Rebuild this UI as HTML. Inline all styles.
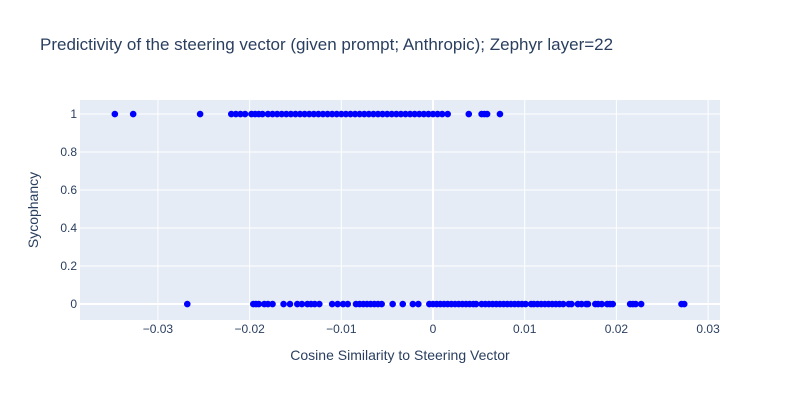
<!DOCTYPE html>
<html><head><meta charset="utf-8"><style>
body{margin:0;background:#fff;font-family:"Liberation Sans",Arial,sans-serif}
svg text{font-family:"Liberation Sans",Arial,sans-serif}
</style></head><body>
<svg id="chart" width="800" height="400">
<text x="40" y="50" font-size="17" fill="#2a3f5f">Predictivity of the steering vector (given prompt; Anthropic); Zephyr layer=22</text>
<rect x="80" y="100" width="640" height="220" fill="#e5ecf6"/>
<g id="grid"></g><g id="pts"></g><g id="ticks"></g>
<text x="400" y="360" font-size="14" fill="#2a3f5f" text-anchor="middle">Cosine Similarity to Steering Vector</text>
<text x="38" y="210" font-size="14" fill="#2a3f5f" text-anchor="middle" transform="rotate(-90 38 210)">Sycophancy</text>
</svg>
<script>
const xTicks=[-0.03,-0.02,-0.01,0,0.01,0.02,0.03];
const xTickLabels=["−0.03","−0.02","−0.01","0","0.01","0.02","0.03"];
const yTicks=[0,0.2,0.4,0.6,0.8,1];
const yTickLabels=["0","0.2","0.4","0.6","0.8","1"];
const topX=[-0.0347,-0.0327,-0.0254,-0.022,-0.0215,-0.021,-0.0205,-0.0198,-0.0194,-0.019,-0.0186,-0.018,-0.0175,-0.017,-0.0165,-0.016,-0.0155,-0.015,-0.0145,-0.014,-0.0135,-0.013,-0.0125,-0.012,-0.0115,-0.011,-0.0105,-0.01,-0.0095,-0.009,-0.0085,-0.008,-0.0075,-0.007,-0.0065,-0.006,-0.0055,-0.005,-0.0045,-0.004,-0.0035,-0.003,-0.0025,-0.002,-0.0015,-0.001,-0.0005,0,0.0005,0.001,0.0016,0.0039,0.0053,0.0056,0.0059,0.0073];
const botX=[-0.0268,-0.0196,-0.0193,-0.019,-0.0184,-0.018,-0.0175,-0.0163,-0.0156,-0.0148,-0.0143,-0.0137,-0.0133,-0.0129,-0.0124,-0.011,-0.0104,-0.0098,-0.0093,-0.0084,-0.008,-0.0076,-0.0072,-0.0068,-0.0064,-0.006,-0.0056,-0.0044,-0.0033,-0.0022,-0.0016,-0.0004,0,0.0004,0.0008,0.0012,0.0016,0.002,0.0024,0.0028,0.0032,0.0036,0.004,0.0044,0.0047,0.0053,0.0057,0.0061,0.0065,0.0069,0.0073,0.0077,0.0081,0.0085,0.0089,0.0093,0.0097,0.0101,0.0107,0.011,0.0114,0.0118,0.0122,0.0126,0.013,0.0134,0.0138,0.0142,0.0148,0.0151,0.0158,0.0162,0.0167,0.0169,0.0177,0.018,0.0184,0.019,0.0193,0.0196,0.0215,0.0218,0.0221,0.0227,0.0271,0.0274];
const xMin=-0.0385,xMax=0.0313,yMin=-0.084,yMax=1.074;
const L=80,R=720,T=100,B=320;
const sx=v=>L+(v-xMin)/(xMax-xMin)*(R-L);
const sy=v=>B-(v-yMin)/(yMax-yMin)*(B-T);
const NS="http://www.w3.org/2000/svg";
const grid=document.getElementById('grid'),ticks=document.getElementById('ticks'),pts=document.getElementById('pts');
function mk(t,a,p){const e=document.createElementNS(NS,t);for(const k in a)e.setAttribute(k,a[k]);p.appendChild(e);return e;}
xTicks.forEach((v,i)=>{
 const g=mk('line',{x1:sx(v),x2:sx(v),y1:T,y2:B,stroke:'#fff','stroke-width':v===0?2:1},grid);
 
 
 const t=mk('text',{x:sx(v),y:333,'font-size':12,fill:'#2a3f5f','text-anchor':'middle'},ticks);t.textContent=xTickLabels[i];
 
 
});
yTicks.forEach((v,i)=>{
 const g=mk('line',{x1:L,x2:R,y1:sy(v),y2:sy(v),stroke:'#fff','stroke-width':v===0?2:1},grid);
 
 
 const t=mk('text',{x:L-3,y:sy(v)+4,'font-size':12,fill:'#2a3f5f','text-anchor':'end'},ticks);t.textContent=yTickLabels[i];
 
 
});
[[topX,1],[botX,0]].forEach(([arr,y])=>arr.forEach(v=>{
 const c=mk('circle',{cx:sx(v),cy:sy(y),r:3.3,fill:'#0000ff'},pts);
 
 
}));
</script>
</body></html>
